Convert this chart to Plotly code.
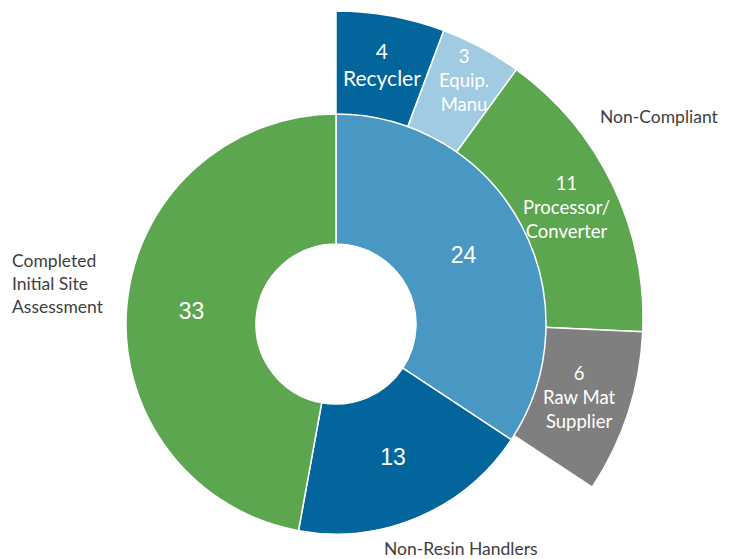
import math
import plotly.graph_objects as go

# ---- data ----
inner_labels = ["Non-Compliant", "Non-Resin Handlers", "Completed Initial Site Assessment"]
inner_values = [24, 13, 33]
inner_colors = ["#4898C3", "#02659B", "#5CA64F"]

outer_labels = ["Recycler", "Equip.<br>Manu", "Processor/<br>Converter", "Raw Mat<br>Supplier"]
outer_values = [4, 3, 11, 6]
outer_colors = ["#02659B", "#A0CBE2", "#5CA64F", "#7F7F7F"]

# ---- styling / layout ----
outer_font_sizes = [21, 18.5, 18.5, 18.5]
outer_label_radius = [258, 270, 256, 256]

W, H = 746, 648
icx, icy = 336, 324        # inner pie centre in px (from top)
ocx, ocy = 336, 318        # outer ring centre
R_out, R_in, R_hole = 307, 210, 80

total = sum(inner_values)
blank = total - sum(outer_values)
o_vals = outer_values + [blank]
o_cols = outer_colors + ["rgba(0,0,0,0)"]
o_lw = [1.5] * len(outer_values) + [0]

def dom(cx, cy, r):
    return dict(x=[(cx - r) / W, (cx + r) / W],
                y=[(H - cy - r) / H, (H - cy + r) / H])

fig = go.Figure()
fig.add_trace(go.Pie(
    values=o_vals, labels=[f"o{i}" for i in range(len(o_vals))],
    textinfo="none",
    marker=dict(colors=o_cols, line=dict(color="white", width=o_lw)),
    sort=False, direction="clockwise", rotation=0,
    hole=190 / R_out, domain=dom(ocx, ocy, R_out), hoverinfo="skip", showlegend=False,
))
fig.add_trace(go.Pie(
    values=inner_values, labels=inner_labels,
    textinfo="value", textposition="inside",
    insidetextorientation="horizontal",
    textfont=dict(family="Liberation Sans", size=23, color="white"),
    marker=dict(colors=inner_colors, line=dict(color="white", width=1.5)),
    sort=False, direction="clockwise", rotation=0,
    hole=R_hole / R_in, domain=dom(icx, icy, R_in), hoverinfo="skip", showlegend=False,
))

# outer slice labels, placed at the middle angle of each slice
cum = 0
for v, l, fs, r in zip(outer_values, outer_labels, outer_font_sizes, outer_label_radius):
    mid = (cum + v / 2) / total * 2 * math.pi
    cum += v
    x = ocx + r * math.sin(mid)
    y = ocy - r * math.cos(mid)
    fig.add_annotation(text=f"{v}<br>{l}", x=x / W, y=1 - y / H, xref="paper", yref="paper",
                       xanchor="center", yanchor="middle", align="center", showarrow=False,
                       font=dict(family="Lato", size=fs, color="white"))

def ann(text, x, y, xanchor="left", align="left"):
    fig.add_annotation(text=text, x=x / W, y=1 - y / H, xref="paper", yref="paper",
                       xanchor=xanchor, yanchor="middle", align=align, showarrow=False,
                       font=dict(family="Lato", size=17.5, color="#404040"))

ann("Non-Compliant", 598, 116)
ann("Completed<br>Initial Site<br>Assessment", 10, 284)
ann("Non-Resin Handlers", 461, 548, xanchor="center", align="center")

fig.update_layout(width=W, height=H, margin=dict(l=0, r=0, t=0, b=0),
                  paper_bgcolor="white", plot_bgcolor="white")

fig.write_html("out.html",
               post_script="document.body.style.margin='0';document.body.style.overflow='hidden';")
